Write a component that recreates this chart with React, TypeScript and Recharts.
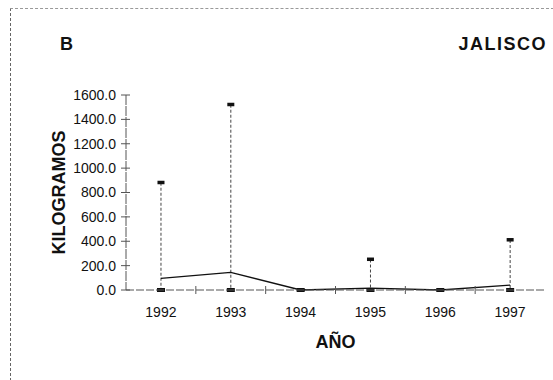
import { ComposedChart, Bar, Line, XAxis, YAxis } from 'recharts';

const years = ['1992', '1993', '1994', '1995', '1996', '1997'];
const meanKg = [95, 145, 0, 15, 0, 40];
const maxKg = [880, 1520, 0, 250, 0, 410];
const minKg = [0, 0, 0, 0, 0, 0];
const kgTicks = [0, 200, 400, 600, 800, 1000, 1200, 1400, 1600];

const data = years.map((year, i) => ({ year, mean: meanKg[i], range: [minKg[i], maxKg[i]] }));

const FONT = "Arial, 'Liberation Sans', sans-serif";
const YEAR_GAP = 17;

function RangeMark(props: any) {
  const { x, y, width, height } = props;
  const cx = x + width / 2;
  const top = Math.min(y, y + height);
  const bottom = Math.max(y, y + height);
  return (
    <g>
      <line x1={cx} x2={cx} y1={top} y2={bottom} stroke="#444" strokeDasharray="3 2" />
      <rect x={cx - 3.5} y={top - 2} width={7} height={3.5} fill="#111" />
      <rect x={cx - 4} y={bottom - 2} width={8} height={4} fill="#111" />
    </g>
  );
}

function KgTick({ x, y, payload }: any) {
  return (
    <g>
      <line x1={x + 5} x2={x + 14} y1={y} y2={y} stroke="#555" />
      <text x={x} y={y} dy="0.35em" textAnchor="end" fontSize={14} fontFamily={FONT} fill="#111">
        {Number(payload.value).toFixed(1)}
      </text>
    </g>
  );
}

// year label, plus the cross mark on the boundary between this year and the next
function YearTick({ x, y, payload, index, visibleTicksCount }: any) {
  const half = payload.offset || 0;
  const axisY = y - YEAR_GAP;
  const edge = index < visibleTicksCount - 1 && half > 0;
  return (
    <g>
      {edge && <line x1={x + half} x2={x + half} y1={axisY - 4} y2={axisY + 4} stroke="#555" />}
      <text x={x} y={y} dy="0.71em" textAnchor="middle" fontSize={14} fontFamily={FONT} fill="#111">
        {payload.value}
      </text>
    </g>
  );
}

function YTitle({ viewBox }: any) {
  const cx = viewBox.x + 59;
  const cy = viewBox.y + viewBox.height / 2;
  return (
    <text x={cx} y={cy} transform={`rotate(-90 ${cx} ${cy})`} textAnchor="middle" dominantBaseline="central"
      fontSize={18} fontWeight="bold" fontFamily={FONT} fill="#111">
      KILOGRAMOS
    </text>
  );
}

function XTitle({ viewBox }: any) {
  return (
    <text x={viewBox.x + viewBox.width / 2} y={viewBox.y + 58} textAnchor="middle"
      fontSize={18} fontWeight="bold" fontFamily={FONT} fill="#111">
      AÑO
    </text>
  );
}

export default function App() {
  return (
    <div style={{ position: 'absolute', left: 0, top: 0, width: 553, height: 380, background: '#fff' }}>
      <div style={{ position: 'absolute', left: 10, top: 8, width: 543, height: 372, borderLeft: '1px dashed #666', borderTop: '1px dashed #999' }} />
      <ComposedChart width={553} height={380} data={data} margin={{ top: 95, right: 8, bottom: 0, left: 0 }}>
        <text x={60} y={50} fontSize={18} fontWeight="bold" fontFamily={FONT} fill="#111">B</text>
        <text x={547} y={50} textAnchor="end" fontSize={18} fontWeight="bold" fontFamily={FONT} letterSpacing={1.5} fill="#111">JALISCO</text>
        <XAxis xAxisId="cat" dataKey="year" height={90} tickSize={0} tickMargin={YEAR_GAP} tickLine={false}
          axisLine={{ stroke: '#555', strokeDasharray: '8 2' }} tick={<YearTick />} label={<XTitle />} />
        <XAxis xAxisId="top" orientation="top" dataKey="year" height={0} tick={false} tickLine={false}
          axisLine={{ stroke: '#aaa', strokeDasharray: '2 14' }} />
        <YAxis yAxisId="kg" domain={[0, 1600]} ticks={kgTicks} width={126} tickSize={0} tickMargin={10} tickLine={false}
          axisLine={{ stroke: '#555', strokeDasharray: '10 1' }} tick={<KgTick />} label={<YTitle />} />
        <YAxis yAxisId="frame" orientation="right" domain={[0, 1600]} width={0} tick={false} tickLine={false}
          axisLine={{ stroke: '#555', strokeDasharray: '4 2' }} />
        <Bar xAxisId="cat" yAxisId="kg" dataKey="range" shape={<RangeMark />} isAnimationActive={false} />
        <Line xAxisId="cat" yAxisId="kg" type="linear" dataKey="mean" stroke="#111" strokeWidth={1.3}
          dot={false} isAnimationActive={false} />
      </ComposedChart>
    </div>
  );
}
